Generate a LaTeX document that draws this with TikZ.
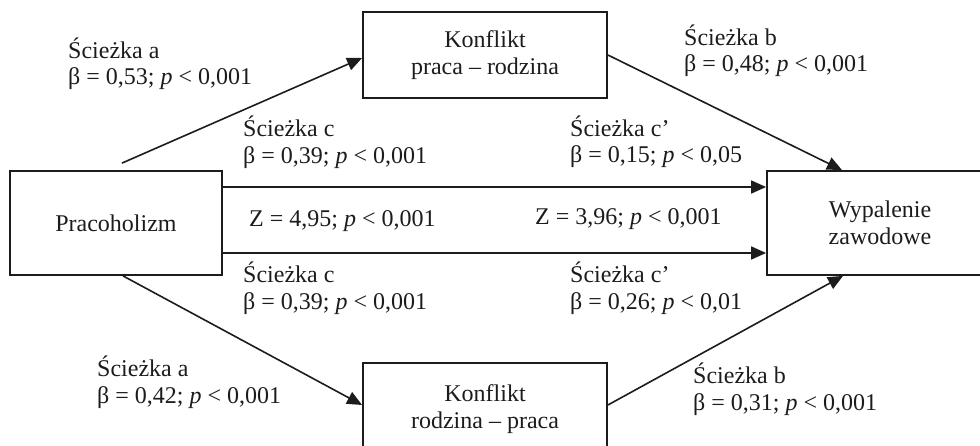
\documentclass[tikz,border=0pt]{standalone}
\usepackage{fontspec}
\setmainfont{Liberation Serif}
\usetikzlibrary{arrows.meta}
\definecolor{ink}{RGB}{30,27,28}
\tikzset{
  box/.style={draw=ink, line width=1.8pt, rectangle, align=center, inner sep=0pt,
              font=\fontsize{24}{27}\selectfont, text=ink},
  conn/.style={draw=ink, line width=1.6pt, -{Triangle[length=15pt,width=13pt]}},
  lbl/.style={anchor=base west, inner sep=0pt, font=\fontsize{24}{27}\selectfont, text=ink}
}
\begin{document}
\begin{tikzpicture}[x=1pt,y=-1pt]
\useasboundingbox (0,0) rectangle (980,446);
\clip (0,0) rectangle (980,446);
% boxes
\node[box, minimum width=212pt, minimum height=104pt] (prac) at (116,223) {Pracoholizm};
\node[box, minimum width=244pt, minimum height=86pt] (top) at (485,55) {Konflikt\\praca -- rodzina};
\node[box, minimum width=244pt, minimum height=92pt] (bot) at (485,409) {Konflikt\\rodzina -- praca};
\node[box, minimum width=226pt, minimum height=104pt] (wyp) at (880,223) {Wypalenie\\zawodowe};
% connectors
\draw[conn] ([xshift=6pt,yshift=7pt]prac.north) -- ([yshift=-3pt]top.west);
\draw[conn] ([xshift=7pt]prac.south) -- ([yshift=4pt]bot.west);
\draw[conn] (top.east) -- ([xshift=-38pt]wyp.north);
\draw[conn] ([yshift=4pt]bot.east) -- ([xshift=-37pt]wyp.south);
\draw[conn] ([yshift=36pt]prac.east) -- ([yshift=36pt]wyp.west);
\draw[conn] ([yshift=-30pt]prac.east) -- ([yshift=-30pt]wyp.west);
% labels
\node[lbl] (a1t) at (68,59) {Ścieżka a};
\node[lbl] (a1b) at (68,85) {β = 0,53; \textit{p} < 0,001};
\node[lbl] (c1t) at (243,137) {Ścieżka c};
\node[lbl] (c1b) at (243,164) {β = 0,39; \textit{p} < 0,001};
\node[lbl] (d1t) at (570,137) {Ścieżka c’};
\node[lbl] (d1b) at (570,163) {β = 0,15; \textit{p} < 0,05};
\node[lbl] (b1t) at (684,46) {Ścieżka b};
\node[lbl] (b1b) at (684,72) {β = 0,48; \textit{p} < 0,001};
\node[lbl] (z1) at (249,227) {Z = 4,95; \textit{p} < 0,001};
\node[lbl] (z2) at (535,225) {Z = 3,96; \textit{p} < 0,001};
\node[lbl] (c2t) at (243,283) {Ścieżka c};
\node[lbl] (c2b) at (243,310) {β = 0,39; \textit{p} < 0,001};
\node[lbl] (d2t) at (570,283) {Ścieżka c’};
\node[lbl] (d2b) at (570,310) {β = 0,26; \textit{p} < 0,01};
\node[lbl] (a2t) at (97,376) {Ścieżka a};
\node[lbl] (a2b) at (97,403) {β = 0,42; \textit{p} < 0,001};
\node[lbl] (b2t) at (693,383) {Ścieżka b};
\node[lbl] (b2b) at (693,410) {β = 0,31; \textit{p} < 0,001};
\end{tikzpicture}
\end{document}
